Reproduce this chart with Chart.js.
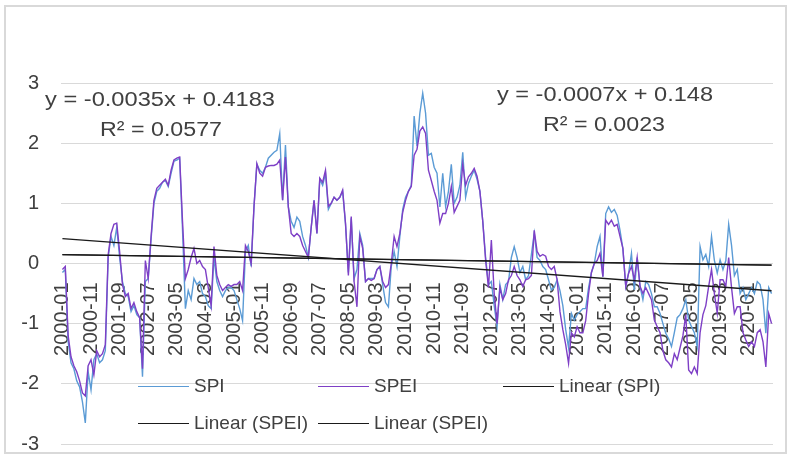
<!DOCTYPE html>
<html>
<head>
<meta charset="utf-8">
<script src="https://cdn.jsdelivr.net/npm/chart.js@4.4.0/dist/chart.umd.min.js"></script>
<style>
  html, body { margin: 0; padding: 0; background: #fff; }
  #wrap { position: relative; width: 790px; height: 457px; }
  #chart { position: absolute; left: 0; top: 0; }
  .legend-item { position: absolute; display: flex; align-items: center; height: 24px; margin-top: -12px;
    font: 19px "Liberation Sans", Arial, sans-serif; color: #404040; white-space: nowrap; }
  .legend-item .swatch { display: inline-block; width: 51px; height: 0; margin-right: 5px; }
</style>
</head>
<body>
<div id="wrap">
  <canvas id="chart" width="790" height="457"></canvas>
  <div id="legend"></div>
</div>
<script>
// monthly categories 2000-01 .. 2020-09, a label on every 10th month
const startYear = 2000;
const endYear = 2020;
const endMonth = 9;
const months = [];
for (let y = startYear; y <= endYear; y++) {
  for (let m = 1; m <= 12; m++) {
    if (y === endYear && m > endMonth) break;
    months.push(y + '-' + String(m).padStart(2, '0'));
  }
}
const labelEvery = 10;
const yTicks = [-3, -2, -1, 0, 1, 2, 3];

// read left to right off the picture
const spiValues = [
  -0.15, -0.1, -1.3, -1.65, -1.75, -1.95, -2.05, -2.3, -2.65, -1.8, -2.1, -1.6,
  -1.5, -1.65, -1.6, -1.45, 0.1, 0.45, 0.3, 0.6, 0.1, -0.3, -0.5, -0.55,
  -0.8, -0.7, -0.85, -0.9, -1.88, -0.3, -0.25, 0.4, 1.0, 1.2, 1.25, 1.35,
  1.38, 1.28, 1.5, 1.7, 1.72, 1.75, 0.55, -0.75, -0.45, -0.6, -0.25, -0.35,
  -0.3, -0.5, -0.55, -0.7, -0.75, 0.1, -0.3, -0.45, -0.55, -0.45, -0.4,
  -0.4, -0.45, -0.6, -0.75, -0.95, 0.2, 0.3, -0.05, 0.95, 1.65, 1.55, 1.5,
  1.6, 1.75, 1.8, 1.85, 1.88, 2.16, 1.05, 1.97, 0.94, 0.7, 0.6, 0.77,
  0.7, 0.45, 0.3, 0.1, 0.6, 1.05, 0.5, 1.4, 1.3, 1.5, 0.9, 1.0,
  1.1, 1.05, 1.1, 1.2, 0.65, -0.15, 0.75, -0.25, -0.1, 0.5, 0.3, -0.3,
  -0.25, -0.25, -0.25, -0.1, -0.05, -0.35, -0.65, -0.72, -0.05, 0.2, -0.05, 0.45,
  0.9, 1.1, 1.2, 1.3, 2.45, 1.95, 2.5, 2.83, 2.5, 1.8, 1.83, 1.6,
  1.5, 0.94, 1.5, 0.95, 1.2, 1.65, 1.0, 1.1, 1.3, 1.85, 1.1,
  1.33, 1.45, 1.55, 1.4, 1.2, 0.7, 0.1, -0.35, -0.3, -0.7, -1.05, -0.35,
  -0.6, -0.35, -0.3, 0.1, 0.28, 0.1, -0.15, -0.05, -0.27, -0.2, 0.15, 0.5,
  0.1, 0.05, -0.05, -0.1, -0.27, -0.44, -0.4, -0.27, -0.45, -0.7, -1.1, -1.4,
  -0.83, -0.94, -0.85, -0.8, -0.75, -0.75, -0.4, -0.15, 0.0, 0.28, 0.45, -0.22,
  0.83, 0.94, 0.85, 0.9, 0.8, 0.55, 0.25, -0.38, -0.16, 0.17, -0.44, 0.1,
  -0.38, -0.6, -0.3, -0.35, -0.5, -0.72, -0.72, -0.83, -1.0, -1.16, -1.25,
  -1.38, -1.15, -0.9, -0.85, -0.75, -0.6, -0.94, -1.05, -1.15, -1.38, 0.28, 0.06,
  0.15, -0.05, 0.45, 0.05, -0.16, 0.06, -0.1, 0.05, 0.65, 0.3, -0.2, -0.1,
  -0.5, -0.4, -0.6, -0.5, -0.4, -0.5, -0.3, -0.35, -0.6, -1.16, -0.4, -0.5
];

const speiValues = [
  -0.1, -0.05, -1.2, -1.55, -1.7, -1.8, -1.95, -2.15, -2.2, -1.7, -1.6, -1.85,
  -1.45, -1.55, -1.5, -1.35, 0.15, 0.5, 0.65, 0.67, 0.2, -0.35, -0.55, -0.5,
  -0.75, -0.65, -0.8, -0.9, -1.75, 0.05, -0.25, 0.45, 1.05, 1.25, 1.3, 1.35,
  1.4, 1.3, 1.55, 1.72, 1.75, 1.77, 0.7, -0.25, -0.1, 0.1, 0.25, 0.0,
  0.05, -0.05, -0.1, -0.4, -0.7, 0.28, -0.2, -0.35, -0.45, -0.4, -0.35,
  -0.38, -0.35, -0.35, -0.3, -0.45, 0.3, 0.2, 0.0, 0.95, 1.66, 1.5, 1.45,
  1.6, 1.62, 1.63, 1.63, 1.65, 1.72, 1.05, 1.77, 0.94, 0.5, 0.45, 0.5,
  0.45, 0.3, 0.2, 0.1, 0.6, 1.05, 0.5, 1.42, 1.35, 1.55, 0.95, 1.0,
  1.1, 1.05, 1.1, 1.22, 0.67, -0.2, 0.78, -0.3, -0.72, 0.45, 0.25, -0.3,
  -0.25, -0.28, -0.25, -0.1, -0.05, -0.3, -0.4, -0.35, 0.0, 0.45, 0.28, 0.5,
  0.85, 1.05, 1.2, 1.28, 1.8, 1.9, 2.2, 2.27, 2.16, 1.55, 1.38, 1.2,
  1.05, 0.67, 0.83, 0.83, 1.0, 1.28, 0.85, 0.95, 1.05, 1.65, 1.3,
  1.44, 1.5, 1.58, 1.45, 1.2, 0.7, 0.05, -0.4, 0.39, -0.5, -1.0, -0.4,
  -0.6, -0.5, -0.27, -0.2, -0.05, -0.2, -0.27, -0.38, -0.27, -0.25, -0.2, 0.55,
  0.2, 0.12, 0.15, 0.12, -0.05, -0.1, -0.05, -0.27, -0.8, -1.1, -1.35, -1.66,
  -1.15, -1.22, -1.05, -1.15, -1.15, -0.95, -0.5, -0.15, 0.0, 0.05, 0.17, -0.22,
  0.72, 0.65, 0.72, 0.62, 0.65, 0.45, 0.25, -0.38, -0.16, -0.05, -0.27, 0.1,
  -0.38, -0.5, -0.4, -0.5, -0.6, -0.94, -1.05, -1.15, -1.45, -1.6, -1.65,
  -1.72, -1.5, -1.6, -1.4, -1.2, -0.85, -1.77, -1.83, -1.72, -1.83, -1.15, -0.85,
  -0.7, -0.38, -0.1, -0.5, -0.83, -0.27, -0.27, -0.38, 0.1, -0.4, -0.83, -0.72,
  -0.72, -1.15, -1.27, -1.38, -1.3, -1.38, -1.15, -1.1, -1.3, -1.72, -0.83, -1.0
];

// trend line coefficients as printed on the chart (x = 1 .. n)
const spiTrend = { slope: -0.0035, intercept: 0.4183, r2: 0.0577 };
const speiTrend = { slope: -0.0007, intercept: 0.148, r2: 0.0023 };

const textColor = '#404040';
const fontFamily = '"Liberation Sans", Arial, sans-serif';

// only the two end points, the library joins them
function trendEnds(t) {
  const arr = months.map(() => null);
  const n = months.length;
  arr[0] = t.intercept + t.slope * 1;
  arr[n - 1] = t.intercept + t.slope * n;
  return arr;
}

function trendSet(label, t) {
  return {
    label, data: trendEnds(t), borderColor: '#1a1a1a', borderWidth: 1.3,
    pointRadius: 0, spanGaps: true, order: 0
  };
}

const datasets = [
  { label: 'SPI', data: spiValues, borderColor: '#5B9BD5', borderWidth: 1.4, pointRadius: 0, order: 2 },
  { label: 'SPEI', data: speiValues, borderColor: '#7E3FC6', borderWidth: 1.4, pointRadius: 0, order: 1 },
  trendSet('Linear (SPI)', spiTrend),
  trendSet('Linear (SPEI)', speiTrend),
  trendSet('Linear (SPEI)', speiTrend)
];

// equation labels: [text, centre x, centre y, target width]
const eqLabels = [
  [`y = ${spiTrend.slope}x + ${spiTrend.intercept}`, 160, 100, 230],
  [`R² = ${spiTrend.r2}`, 161, 130, 122],
  [`y = ${speiTrend.slope}x + ${speiTrend.intercept}`, 605, 95, 216],
  [`R² = ${speiTrend.r2}`, 604, 125, 122]
];

const framePlugin = {
  id: 'frame',
  beforeDraw(chart) {
    const c = chart.ctx;
    c.save();
    c.fillStyle = '#fff';
    c.fillRect(0, 0, chart.width, chart.height);
    c.strokeStyle = '#D9D9D9';
    c.lineWidth = 2;
    c.strokeRect(5, 6, 781, 447);
    c.restore();
  },
  afterDraw(chart) {
    const c = chart.ctx;
    c.save();
    c.fillStyle = textColor;
    c.font = '20px ' + fontFamily;
    c.textAlign = 'center';
    c.textBaseline = 'middle';
    eqLabels.forEach(([txt, x, y, w]) => {
      const sx = w / c.measureText(txt).width;
      c.save();
      c.translate(x, y);
      c.scale(sx, 1);
      c.fillText(txt, 0, 0);
      c.restore();
    });
    c.restore();
  }
};

function noPadding(s) {
  s.paddingLeft = 0; s.paddingRight = 0; s.paddingTop = 0; s.paddingBottom = 0;
}

const chart = new Chart(document.getElementById('chart'), {
  type: 'line',
  data: { labels: months, datasets },
  options: {
    responsive: false,
    animation: false,
    events: [],
    layout: { padding: { top: 83, right: 17, bottom: 13, left: 0 } },
    plugins: { legend: { display: false }, tooltip: { enabled: false } },
    elements: { line: { tension: 0 } },
    scales: {
      x: {
        type: 'category',
        position: { y: 0 },
        offset: true,
        grid: { display: false, drawTicks: false },
        border: { display: false },
        ticks: {
          autoSkip: false, minRotation: 90, maxRotation: 90, padding: 19,
          color: textColor, font: { family: fontFamily, size: 20 },
          callback: (v, i) => (i % labelEvery === 0 ? months[i] : '')
        },
        afterFit(s) { s.height = 0; noPadding(s); }
      },
      y: {
        min: yTicks[0], max: yTicks[yTicks.length - 1],
        afterBuildTicks(s) { s.ticks = yTicks.map(v => ({ value: v })); },
        grid: { color: '#D9D9D9', lineWidth: 1, drawTicks: false },
        border: { display: false },
        ticks: { padding: 22, color: textColor, font: { family: fontFamily, size: 20 } },
        afterFit(s) { s.width = 61; noPadding(s); }
      }
    }
  },
  plugins: [framePlugin]
});

// legend placed like the original, built from the datasets
const legendCols = [138, 318, 503];
const legendRows = [386, 423];
const legendEl = document.getElementById('legend');
datasets.forEach((ds, i) => {
  const item = document.createElement('div');
  item.className = 'legend-item';
  item.style.left = legendCols[i % 3] + 'px';
  item.style.top = legendRows[Math.floor(i / 3)] + 'px';
  item.innerHTML = `<span class="swatch" style="border-top:1.5px solid ${ds.borderColor}"></span>${ds.label}`;
  legendEl.appendChild(item);
});
</script>
</body>
</html>
